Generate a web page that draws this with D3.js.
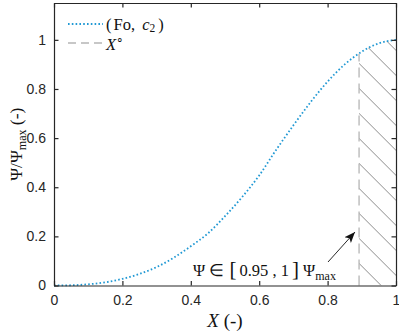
<!DOCTYPE html>
<html>
<head>
<meta charset="utf-8">
<script src="https://cdn.jsdelivr.net/npm/d3@7"></script>
<style>
  html, body { margin: 0; padding: 0; background: #fff; }
  svg { display: block; }
  .tick text { font-family: "Liberation Sans", Arial, sans-serif; font-size: 14px; fill: #262626; }
  .serif { font-family: "Liberation Serif", "Times New Roman", serif; fill: #111; }
</style>
</head>
<body>
<svg id="chart" width="399" height="333"></svg>
<script>
// ---- data ----
const xValues = [0, 0.05, 0.1, 0.15, 0.2, 0.25, 0.3, 0.35, 0.4, 0.45, 0.5,
                 0.55, 0.6, 0.65, 0.7, 0.75, 0.8, 0.85, 0.9, 0.95, 1.0];
const psiValues = [0, 0.001, 0.005, 0.013, 0.027, 0.047, 0.075, 0.113, 0.16, 0.212, 0.282,
                   0.36, 0.448, 0.553, 0.652, 0.746, 0.83, 0.9, 0.952, 0.986, 1.0];
const xTickValues = [0, 0.2, 0.4, 0.6, 0.8, 1];
const yTickValues = [0, 0.2, 0.4, 0.6, 0.8, 1];
const xTickLabels = ["0", "0.2", "0.4", "0.6", "0.8", "1"];
const yTickLabels = ["0", "0.2", "0.4", "0.6", "0.8", "1"];
const xStar = 0.892;          // X° position
const xDomain = [0, 1];
const yDomain = [0, 1.15];

// ---- layout ----
const margin = {left: 54, right: 3, top: 3, bottom: 47.5};
const W = 399, H = 333;
const svg = d3.select("#chart");
const x = d3.scaleLinear().domain(xDomain).range([margin.left, W - margin.right]);
const y = d3.scaleLinear().domain(yDomain).range([H - margin.bottom, margin.top]);
const axisColor = "#262626";

const points = xValues.map((v, i) => [v, psiValues[i]]);
const lineGen = d3.line().x(d => x(d[0])).y(d => y(d[1])).curve(d3.curveMonotoneX);
const areaGen = d3.area().x(d => x(d[0])).y0(y(0)).y1(d => y(d[1])).curve(d3.curveMonotoneX);

// ---- clip paths for hatch ----
const defs = svg.append("defs");
defs.append("clipPath").attr("id", "underCurve")
  .append("path").attr("d", areaGen(points));
defs.append("clipPath").attr("id", "band")
  .append("rect")
  .attr("x", x(xStar)).attr("y", y(yDomain[1]))
  .attr("width", x(1) - x(xStar)).attr("height", y(0) - y(yDomain[1]));

// hatch lines at 45 degrees
const hatchOuter = svg.append("g").attr("clip-path", "url(#band)");
const hatchInner = hatchOuter.append("g").attr("clip-path", "url(#underCurve)");
const x0 = x(xStar), x1 = x(1);
const spacing = 25;
const anchorY = y(0.904);
const base = anchorY - x0;
for (let k = -20; k <= 20; k++) {
  const c = base + k * spacing;
  hatchInner.append("line")
    .attr("x1", x0 - 5).attr("y1", x0 - 5 + c)
    .attr("x2", x1 + 5).attr("y2", x1 + 5 + c)
    .attr("stroke", "#5a5a5a").attr("stroke-width", 0.7);
}

// dashed X° line
const psiAtStar = d3.scaleLinear().domain(xValues).range(psiValues)(xStar);
svg.append("line")
  .attr("x1", x(xStar)).attr("x2", x(xStar))
  .attr("y1", y(0)).attr("y2", y(psiAtStar))
  .attr("stroke", "#b5b5b5").attr("stroke-width", 1.3)
  .attr("stroke-dasharray", "10,6");

// curve
svg.append("path")
  .attr("d", lineGen(points))
  .attr("fill", "none")
  .attr("stroke", "#2199d4")
  .attr("stroke-width", 1.8)
  .attr("stroke-dasharray", "1.6,2.2");

// ---- axes ----
const tickLen = 4.5;
const gx = svg.append("g").attr("transform", `translate(0,${y(0)})`)
  .call(d3.axisBottom(x).tickValues(xTickValues).tickFormat((d, i) => xTickLabels[i])
    .tickSizeInner(-tickLen).tickSizeOuter(0).tickPadding(10));
const gy = svg.append("g").attr("transform", `translate(${x(0)},0)`)
  .call(d3.axisLeft(y).tickValues(yTickValues).tickFormat((d, i) => yTickLabels[i])
    .tickSizeInner(-tickLen).tickSizeOuter(0).tickPadding(8));
const gxTop = svg.append("g").attr("transform", `translate(0,${y(yDomain[1])})`)
  .call(d3.axisTop(x).tickValues(xTickValues).tickFormat("")
    .tickSizeInner(-tickLen).tickSizeOuter(0));
const gyRight = svg.append("g").attr("transform", `translate(${x(1)},0)`)
  .call(d3.axisRight(y).tickValues(yTickValues).tickFormat("")
    .tickSizeInner(-tickLen).tickSizeOuter(0));
[gx, gy, gxTop, gyRight].forEach(g => {
  g.select(".domain").attr("stroke", axisColor).attr("stroke-width", 1.2);
  g.selectAll(".tick line").attr("stroke", axisColor).attr("stroke-width", 1.2);
});

// ---- axis labels ----
const xl = svg.append("text").attr("class", "serif")
  .attr("x", (x(0) + x(1)) / 2).attr("y", 327)
  .attr("text-anchor", "middle").style("font-size", "19px");
xl.append("tspan").style("font-style", "italic").text("X");
xl.append("tspan").text(" (-)");

const yl = svg.append("text").attr("class", "serif")
  .attr("transform", `translate(22,${(y(0) + y(yDomain[1])) / 2}) rotate(-90)`)
  .attr("text-anchor", "middle").style("font-size", "17.5px");
yl.append("tspan").text("Ψ/Ψ");
yl.append("tspan").attr("dy", 4).style("font-size", "12px").text("max");
yl.append("tspan").attr("dy", -4).text(" (-)");

// ---- legend ----
const legX0 = 68, legX1 = 103;
svg.append("line").attr("x1", legX0).attr("x2", legX1).attr("y1", 24).attr("y2", 24)
  .attr("stroke", "#2199d4").attr("stroke-width", 1.8).attr("stroke-dasharray", "1.6,2.2");
svg.append("line").attr("x1", legX0).attr("x2", legX1).attr("y1", 43).attr("y2", 43)
  .attr("stroke", "#b5b5b5").attr("stroke-width", 1.3).attr("stroke-dasharray", "8,5");
const l1 = svg.append("text").attr("class", "serif").attr("x", 106).attr("y", 29.5)
  .style("font-size", "16.5px");
l1.append("tspan").text("(");
l1.append("tspan").attr("dx", 2).text("Fo, ");
l1.append("tspan").attr("dx", 3).style("font-style", "italic").text("c");
l1.append("tspan").attr("dy", 2.5).style("font-size", "11.5px").text("2");
l1.append("tspan").attr("dy", -2.5).attr("dx", 3).text(")");
const l2 = svg.append("text").attr("class", "serif").attr("x", 106).attr("y", 49.5)
  .style("font-size", "16.5px");
l2.append("tspan").style("font-style", "italic").text("X");
l2.append("tspan").attr("dy", -6).style("font-size", "11.5px").text("∘");

// ---- annotation ----
const ann = svg.append("text").attr("class", "serif").attr("x", 193).attr("y", 276)
  .style("font-size", "16.5px");
ann.append("tspan").text("Ψ ∈ ");
ann.append("tspan").attr("dx", 1).style("font-size", "21px").text("[");
ann.append("tspan").attr("dx", 3).text("0.95 , 1");
ann.append("tspan").attr("dx", 3).style("font-size", "21px").text("]");
ann.append("tspan").text(" Ψ");
ann.append("tspan").attr("dy", 3.5).style("font-size", "12px").text("max");

defs.append("marker").attr("id", "arrowhead")
  .attr("viewBox", "0 0 10 10").attr("refX", 10).attr("refY", 5)
  .attr("markerWidth", 11).attr("markerHeight", 11).attr("markerUnits", "userSpaceOnUse")
  .attr("orient", "auto")
  .append("path").attr("d", "M0,1 L10,5 L0,9 L2.5,5 Z").attr("fill", "#111");
svg.append("line")
  .attr("x1", 328).attr("y1", 262).attr("x2", 355).attr("y2", 232)
  .attr("stroke", "#111").attr("stroke-width", 0.9)
  .attr("marker-end", "url(#arrowhead)");
</script>
</body>
</html>
